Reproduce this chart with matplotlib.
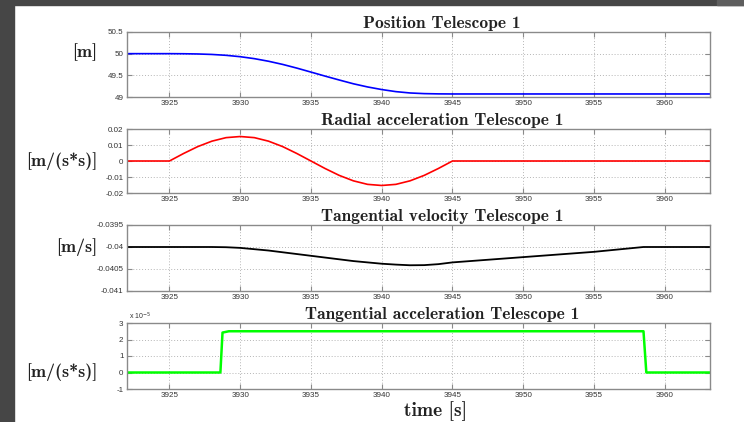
import matplotlib
matplotlib.use("Agg")
import matplotlib.pyplot as plt
from matplotlib.patches import Rectangle

# ---------------- data ----------------
t_pos = [3922, 3925, 3926, 3927, 3928, 3929, 3930, 3931, 3932, 3933, 3934, 3935,
         3936, 3937, 3938, 3939, 3940, 3941, 3942, 3943, 3944, 3945, 3950, 3955, 3960, 3963.3]
position = [50.0, 50.0, 49.998, 49.993, 49.982, 49.962, 49.93, 49.885, 49.825, 49.752,
            49.667, 49.575, 49.482, 49.392, 49.305, 49.232, 49.172, 49.124, 49.093,
            49.078, 49.072, 49.07, 49.07, 49.07, 49.07, 49.07]

t_rad = [3922, 3925, 3926, 3927, 3928, 3929, 3930, 3931, 3932, 3933, 3934, 3935,
         3936, 3937, 3938, 3939, 3940, 3941, 3942, 3943, 3944, 3945, 3963.3]
radial_acc = [0.0, 0.0, 0.0047, 0.009, 0.0124, 0.0146, 0.0153, 0.0146, 0.0124, 0.009,
              0.0047, 0.0, -0.0047, -0.009, -0.0124, -0.0146, -0.0153, -0.0146,
              -0.0124, -0.009, -0.0047, 0.0, 0.0]

t_vel = [3922, 3928, 3929, 3930, 3931, 3932, 3933, 3934, 3935, 3936, 3937, 3938, 3939,
         3940, 3941, 3942, 3943, 3944, 3945, 3950, 3955, 3958.5, 3963.3]
tang_vel = [-0.04, -0.04, -0.040005, -0.04002, -0.04005, -0.04008, -0.04012, -0.04016,
            -0.0402, -0.04024, -0.04028, -0.04032, -0.04035, -0.04038, -0.0404,
            -0.040415, -0.040412, -0.04039, -0.04035, -0.04023, -0.04011, -0.04, -0.04]

t_tacc = [3922, 3928.6, 3928.75, 3929.2, 3958.5, 3958.7, 3963.3]
tang_acc = [0.0, 0.0, 2.42, 2.5, 2.5, 0.0, 0.0]   # in units of 1e-5 m/s^2

titles = ["Position Telescope 1", "Radial acceleration Telescope 1",
          "Tangential velocity Telescope 1", "Tangential acceleration Telescope 1"]
ylabels = ["[m]", "[m/(s*s)]", "[m/s]", "[m/(s*s)]"]
xticks = [3925, 3930, 3935, 3940, 3945, 3950, 3955, 3960]
yticks_list = [[49, 49.5, 50, 50.5],
               [-0.02, -0.01, 0, 0.01, 0.02],
               [-0.041, -0.0405, -0.04, -0.0395],
               [-1, 0, 1, 2, 3]]
ytick_labels = [["49", "49.5", "50", "50.5"],
                ["-0.02", "-0.01", "0", "0.01", "0.02"],
                ["-0.041", "-0.0405", "-0.04", "-0.0395"],
                ["-1", "0", "1", "2", "3"]]
ylims = [(49, 50.5), (-0.02, 0.02), (-0.041, -0.0395), (-1, 3)]

# ---------------- figure ----------------
W, H = 744, 422
fig = plt.figure(figsize=(W / 100, H / 100), dpi=100)
fig.patch.set_facecolor("white")

def fx(px):
    return px / W

def fy(py):
    return 1 - py / H

# dark window border
fig.patches.append(Rectangle((0, 0), fx(14), 1, transform=fig.transFigure,
                             color="#464646", zorder=0))
fig.patches.append(Rectangle((0, fy(5)), 1, 5 / H, transform=fig.transFigure,
                             color="#464646", zorder=0))
fig.patches.append(Rectangle((fx(717), fy(5)), 27 / W, 5 / H, transform=fig.transFigure,
                             color="#5e5e5e", zorder=0))

ax_left, ax_right = 127, 710
boxes = [(32, 97), (129, 193), (225, 291), (323, 389)]
series = [(t_pos, position, "#0000ff", 1.2),
          (t_rad, radial_acc, "#ff0000", 1.2),
          (t_vel, tang_vel, "#000000", 1.3),
          (t_tacc, tang_acc, "#00ff00", 1.8)]
ylabel_y = [52, 161, 247, 372]

title_font = dict(family=["cmb10", "DejaVu Serif"], size=12.6, color="#222222")
frame_col = "#8a8a8a"

for i, (top, bot) in enumerate(boxes):
    ax = fig.add_axes([fx(ax_left), fy(bot), (ax_right - ax_left) / W, (bot - top) / H])
    tx, ty, col, lw = series[i]
    ax.plot(tx, ty, color=col, lw=lw, solid_joinstyle="round")
    ax.set_xlim(3922.0, 3963.2)
    ax.set_ylim(*ylims[i])
    ax.set_xticks(xticks)
    ax.set_xticklabels([str(v) for v in xticks])
    ax.set_yticks(yticks_list[i])
    ax.set_yticklabels(ytick_labels[i])
    ax.grid(True, linestyle=(0, (1, 2)), color="#b5b5b5", lw=0.7)
    ax.tick_params(direction="in", length=3.5, width=0.8, color=frame_col,
                   top=True, right=True, labelsize=5.8, labelcolor="#333333", pad=2.5)
    for lab in ax.get_xticklabels() + ax.get_yticklabels():
        lab.set_family(["Liberation Sans", "DejaVu Sans"])
    for s in ax.spines.values():
        s.set_color(frame_col)
        s.set_linewidth(1.0)
    ax.text(0.54, 1.02, titles[i], transform=ax.transAxes, ha="center", va="bottom",
            **title_font)
    fig.text(fx(97), fy(ylabel_y[i]), ylabels[i], ha="right", va="center",
             family=["cmb10", "DejaVu Serif"], size=13, color="#222222")
    if i == 3:
        fig.text(fx(129), fy(316), r"x 10$^{-5}$", ha="left", va="center",
                 size=5, color="#333333", family=["Liberation Sans", "DejaVu Sans"])

fig.text(fx(436), fy(411), "time [s]", ha="center", va="center",
         family=["cmb10", "DejaVu Serif"], size=14, color="#222222")

fig.savefig("out.png", dpi=100, facecolor=fig.get_facecolor())
